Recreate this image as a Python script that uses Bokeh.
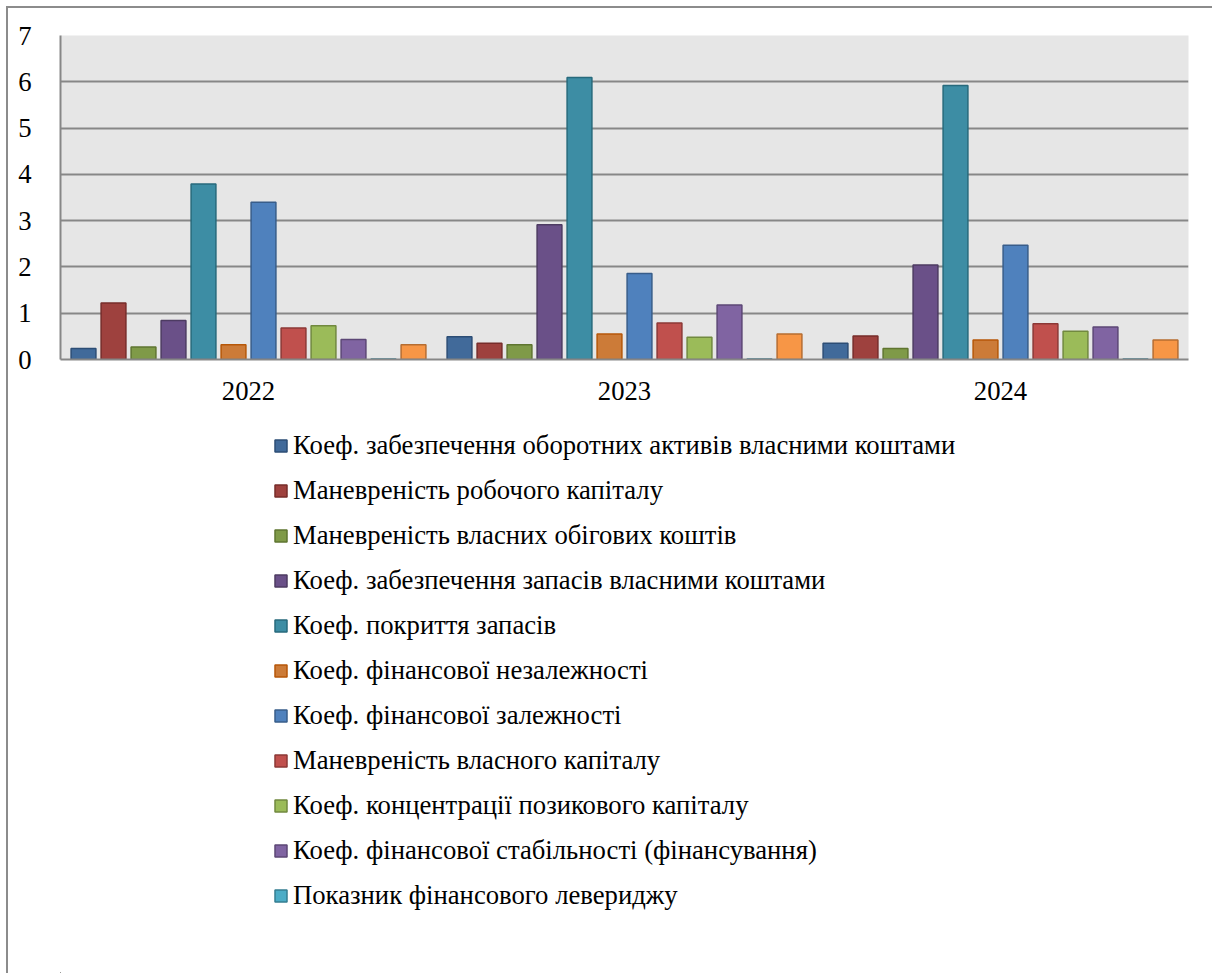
from bokeh.plotting import figure
from bokeh.models import Legend, LegendItem, Range1d, FixedTicker, ColumnDataSource
from bokeh.layouts import column
from bokeh.transform import dodge
from bokeh.embed import file_html
from bokeh.resources import INLINE

years = ["2022", "2023", "2024"]

labels = [
    "Коеф. забезпечення оборотних активів власними коштами",
    "Маневреність робочого капіталу",
    "Маневреність власних обігових коштів",
    "Коеф. забезпечення запасів власними коштами",
    "Коеф. покриття запасів",
    "Коеф. фінансової незалежності",
    "Коеф. фінансової залежності",
    "Маневреність власного капіталу",
    "Коеф. концентрації позикового капіталу",
    "Коеф. фінансової стабільності (фінансування)",
    "Показник фінансового левериджу",
]

s1 = [0.24, 0.49, 0.35]
s2 = [1.22, 0.35, 0.51]
s3 = [0.27, 0.32, 0.24]
s4 = [0.84, 2.91, 2.04]
s5 = [3.79, 6.09, 5.92]
s6 = [0.32, 0.55, 0.42]
s7 = [3.40, 1.86, 2.47]
s8 = [0.68, 0.79, 0.77]
s9 = [0.73, 0.48, 0.61]
s10 = [0.43, 1.18, 0.70]
s11 = [0.01, 0.01, 0.01]
s12 = [0.32, 0.55, 0.42]  # unlabelled series (not in legend)

series = [s1, s2, s3, s4, s5, s6, s7, s8, s9, s10, s11, s12]

fills = ["#416A9A", "#9E413E", "#7F9A48", "#6A5088", "#3D8DA4", "#CC7B38",
         "#4F81BD", "#C0504D", "#9BBB59", "#8064A2", "#4BACC6", "#F79646"]
borders = ["#2C4D75", "#772C2A", "#5F7530", "#4D3B62", "#276A7C", "#B65708",
           "#385D8A", "#8C3836", "#71893F", "#5C4776", "#357D91", "#B66D31"]

data = {"years": years}
for i, s in enumerate(series):
    data[f"s{i+1}"] = s
source = ColumnDataSource(data)

FONT = "Liberation Serif"
FS = "26.7px"

p = figure(x_range=years, y_range=Range1d(0, 7),
           width=1204, height=402, output_backend="svg", toolbar_location=None,
           min_border_left=52, min_border_right=24, min_border_top=27, min_border_bottom=51)

p.background_fill_color = "#E6E6E6"
p.border_fill_color = "white"
p.outline_line_color = None

step = 30.0 / 376.0
bw = 0.066
renderers = []
for i in range(12):
    off = (i - 5.5) * step
    r = p.vbar(x=dodge("years", off, range=p.x_range), top=f"s{i+1}", width=bw, bottom=0,
               source=source, fill_color=fills[i], line_color=borders[i], line_width=1.5)
    renderers.append(r)

p.xgrid.grid_line_color = None
p.ygrid.grid_line_color = "#878787"
p.ygrid.grid_line_width = 2
p.ygrid.ticker = FixedTicker(ticks=[1, 2, 3, 4, 5, 6, 7])

p.yaxis.ticker = FixedTicker(ticks=[0, 1, 2, 3, 4, 5, 6, 7])
p.yaxis.axis_line_color = "#878787"
p.yaxis.axis_line_width = 2
p.yaxis.major_tick_line_color = None
p.yaxis.minor_tick_line_color = None
p.yaxis.major_label_text_font = FONT
p.yaxis.major_label_text_font_size = FS
p.yaxis.major_label_text_color = "black"
p.yaxis.major_label_standoff = 23

p.xaxis.axis_line_color = "#878787"
p.xaxis.axis_line_width = 2
p.xaxis.major_tick_line_color = None
p.xaxis.minor_tick_line_color = None
p.xaxis.major_label_text_font = FONT
p.xaxis.major_label_text_font_size = FS
p.xaxis.major_label_text_color = "black"
p.xaxis.major_label_standoff = 16

# Legend panel (separate figure so the legend is not clipped)
p2 = figure(width=1204, height=563, x_range=Range1d(0, 1), y_range=Range1d(0, 1),
            output_backend="svg", toolbar_location=None,
            x_axis_location=None, y_axis_location=None,
            min_border=0, min_border_left=0, min_border_right=0, min_border_top=0, min_border_bottom=0)
p2.outline_line_color = None
p2.grid.visible = False
p2.background_fill_color = "white"
p2.border_fill_color = "white"

# legend proxies: one bar per series placed outside the visible range
proxies = []
for i in range(11):
    r = p2.vbar(x=[-50.0], top=[-50.0], bottom=[-60.0], width=0.1,
                fill_color=fills[i], line_color=borders[i], line_width=1.5)
    proxies.append(r)

items = [LegendItem(label=labels[i], renderers=[proxies[i]]) for i in range(11)]
legend = Legend(items=items, orientation="vertical", location=(213, 62),
                label_text_font=FONT, label_text_font_size=FS, label_text_color="black",
                glyph_width=15, glyph_height=15, label_standoff=5, label_height=31,
                spacing=14, padding=0, margin=0, border_line_color=None,
                background_fill_alpha=0)
p2.add_layout(legend, "center")

layout = column(p, p2, spacing=0, margin=(6, 0, 0, 6),
                styles={"border-left": "2px solid #8c8c8c", "border-top": "2px solid #8c8c8c"})

open("out.html", "w").write(file_html(layout, INLINE))
